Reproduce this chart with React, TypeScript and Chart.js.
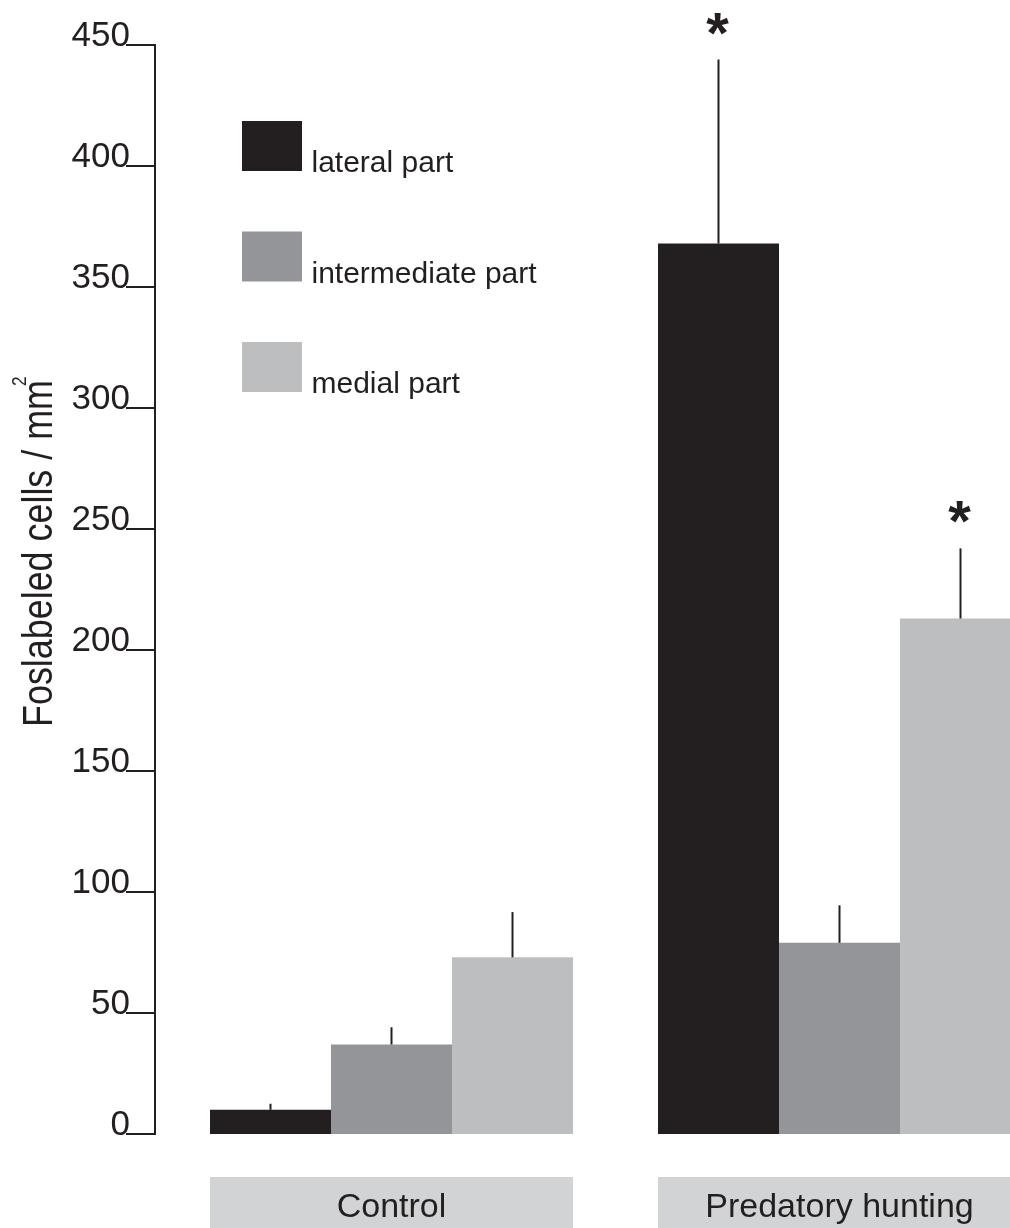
import React, { useEffect, useRef } from "react";
import { Chart, registerables } from "chart.js";

Chart.register(...registerables);

// ---- data ----
const categories = ["Control", "Predatory hunting"];
const seriesNames = ["lateral part", "intermediate part", "medial part"];
const lateralValues = [10, 368];
const lateralErrors = [2.5, 76];
const intermediateValues = [37, 79];
const intermediateErrors = [7.1, 15.5];
const medialValues = [73, 213];
const medialErrors = [18.7, 29];
const lateralSignificant = [false, true];
const intermediateSignificant = [false, false];
const medialSignificant = [false, true];
const yTickValues = [0, 50, 100, 150, 200, 250, 300, 350, 400, 450];
const yTitle = "Foslabeled cells / mm";
const yTitleSup = "2";

const errorSets = [lateralErrors, intermediateErrors, medialErrors];
const sigSets = [lateralSignificant, intermediateSignificant, medialSignificant];

const FONT = "'Liberation Sans', Arial, Helvetica, sans-serif";
const INK = "#231f20";
const colors = ["#231f20", "#939598", "#bcbec0"];
const boxColor = "#d1d3d4";

const decorPlugin = {
  id: "decor",
  beforeDatasetsDraw(chart: any) {
    const ctx = chart.ctx;
    const area = chart.chartArea;
    const metas = chart.data.datasets.map((_: any, i: number) => chart.getDatasetMeta(i));
    ctx.save();
    categories.forEach((cat, ci) => {
      const first = metas[0].data[ci];
      const last = metas[metas.length - 1].data[ci];
      const x0 = first.x - first.width / 2;
      const x1 = last.x + last.width / 2;
      const top = area.bottom + 43;
      ctx.fillStyle = boxColor;
      ctx.fillRect(x0, top, x1 - x0, chart.height - top);
      ctx.fillStyle = INK;
      ctx.font = `34px ${FONT}`;
      ctx.textAlign = "center";
      ctx.textBaseline = "alphabetic";
      ctx.fillText(cat, (x0 + x1) / 2, area.bottom + 83);
    });
    ctx.restore();
  },
  afterDatasetsDraw(chart: any) {
    const ctx = chart.ctx;
    const yScale = chart.scales.y;
    ctx.save();
    chart.data.datasets.forEach((ds: any, di: number) => {
      const meta = chart.getDatasetMeta(di);
      meta.data.forEach((el: any, i: number) => {
        const v = ds.data[i];
        const top = yScale.getPixelForValue(v + errorSets[di][i]);
        ctx.strokeStyle = INK;
        ctx.lineWidth = 2;
        ctx.lineCap = "butt";
        ctx.beginPath();
        ctx.moveTo(el.x, el.y);
        ctx.lineTo(el.x, top);
        ctx.stroke();
        if (sigSets[di][i]) {
          ctx.fillStyle = INK;
          ctx.font = `bold 58px ${FONT}`;
          ctx.textAlign = "center";
          ctx.textBaseline = "alphabetic";
          ctx.fillText("*", el.x - 1, top - 7);
        }
      });
    });
    ctx.restore();
  },
  afterDraw(chart: any) {
    const ctx = chart.ctx;
    const area = chart.chartArea;
    const yScale = chart.scales.y;
    const axisX = area.left - 12.5;
    ctx.save();
    // axis line
    ctx.strokeStyle = INK;
    ctx.lineWidth = 2;
    ctx.beginPath();
    ctx.moveTo(axisX, yScale.getPixelForValue(yTickValues[yTickValues.length - 1]) - 1);
    ctx.lineTo(axisX, yScale.getPixelForValue(0) + 1);
    ctx.stroke();
    // ticks + labels
    ctx.font = `35px ${FONT}`;
    ctx.fillStyle = INK;
    ctx.textAlign = "right";
    ctx.textBaseline = "alphabetic";
    yTickValues.forEach((v) => {
      const y = yScale.getPixelForValue(v);
      ctx.beginPath();
      ctx.moveTo(axisX - 29, y);
      ctx.lineTo(axisX + 1, y);
      ctx.stroke();
      ctx.fillText(String(v), axisX - 25, y + 1);
    });
    // y title
    ctx.save();
    ctx.translate(52, 727);
    ctx.rotate(-Math.PI / 2);
    ctx.font = `42px ${FONT}`;
    ctx.textAlign = "left";
    const w = ctx.measureText(yTitle).width;
    const sx = 347 / w;
    ctx.scale(sx, 1);
    ctx.fillText(yTitle, 0, 0);
    ctx.font = `20px ${FONT}`;
    ctx.fillText(yTitleSup, 341 / sx, -26);
    ctx.restore();
    // legend
    chart.data.datasets.forEach((ds: any, i: number) => {
      const by = 121 + i * 110.5;
      ctx.fillStyle = ds.backgroundColor;
      ctx.fillRect(242, by, 60, 50);
      ctx.fillStyle = INK;
      ctx.font = `30px ${FONT}`;
      ctx.textAlign = "left";
      ctx.fillText(ds.label, 311.5, by + 51);
    });
    ctx.restore();
  },
};

export default function App() {
  const ref = useRef<HTMLCanvasElement>(null);
  useEffect(() => {
    const chart = new Chart(ref.current as HTMLCanvasElement, {
      type: "bar",
      data: {
        labels: categories,
        datasets: [
          { label: seriesNames[0], data: lateralValues, backgroundColor: colors[0] },
          { label: seriesNames[1], data: intermediateValues, backgroundColor: colors[1] },
          { label: seriesNames[2], data: medialValues, backgroundColor: colors[2] },
        ],
      },
      options: {
        animation: false,
        responsive: false,
        devicePixelRatio: 1,
        layout: { padding: { left: 167.5, right: 6.5, top: 45, bottom: 94 } },
        datasets: { bar: { categoryPercentage: 0.8103, barPercentage: 1, borderWidth: 0 } },
        scales: {
          x: { display: false, offset: true },
          y: { display: false, min: 0, max: 450 },
        },
        plugins: { legend: { display: false }, tooltip: { enabled: false } },
      },
      plugins: [decorPlugin],
    });
    return () => chart.destroy();
  }, []);
  return (
    <div
      style={{
        position: "fixed",
        left: 0,
        top: 0,
        width: 1010,
        height: 1228,
        overflow: "hidden",
        background: "#ffffff",
      }}
    >
      <canvas ref={ref} width={1070} height={1228} style={{ display: "block", width: 1070, height: 1228 }} />
    </div>
  );
}
